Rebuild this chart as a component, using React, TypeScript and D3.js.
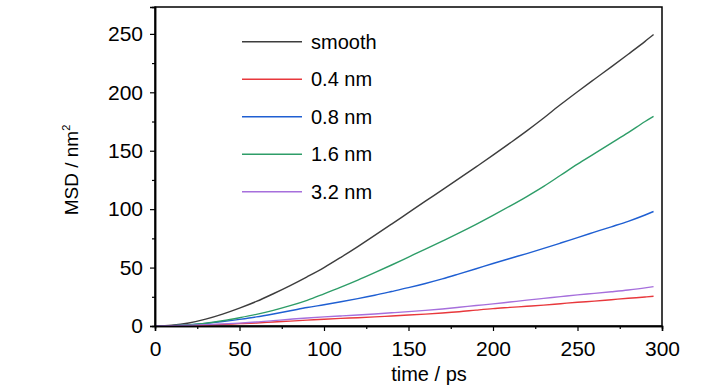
import { useRef, useEffect } from 'react';
import * as d3 from 'd3';

const W = 728;
const H = 390;

// time axis (ps)
const time = [0, 10, 20, 30, 40, 50, 60, 70, 80, 90, 100, 110, 120, 130, 140, 150, 160, 170, 180, 190, 200, 210, 220, 230, 240, 250, 260, 270, 280, 290, 295];

const smooth = [0, 0.7, 2.6, 5.9, 10.2, 15.3, 21.0, 27.6, 34.6, 42.1, 50.0, 58.8, 68.0, 77.5, 87.2, 97.0, 106.8, 116.5, 126.3, 136.2, 146.2, 156.5, 167.0, 178.0, 189.5, 200.5, 211.2, 221.8, 232.6, 243.6, 249.4];
const nm04 = [0, 0.1, 0.4, 0.9, 1.4, 2.0, 2.6, 3.4, 4.2, 5.0, 5.8, 6.5, 7.1, 7.8, 8.6, 9.4, 10.2, 11.1, 12.2, 13.6, 14.9, 15.9, 16.9, 17.9, 19.1, 20.3, 21.3, 22.5, 23.7, 24.8, 25.4];
const nm08 = [0, 0.3, 1.0, 2.2, 3.8, 5.7, 7.8, 10.3, 13.0, 15.8, 18.2, 20.7, 23.4, 26.3, 29.5, 32.8, 36.4, 40.3, 44.6, 49.0, 53.5, 57.8, 62.0, 66.4, 71.0, 75.7, 80.3, 84.9, 89.6, 95.0, 98.0];
const nm16 = [0, 0.3, 1.1, 2.4, 4.5, 7.1, 10.0, 13.4, 17.4, 22.0, 27.5, 33.2, 39.2, 45.6, 52.2, 59.0, 65.8, 72.7, 79.7, 87.0, 94.7, 102.6, 110.8, 119.5, 129.0, 138.5, 147.5, 156.5, 165.5, 175.0, 179.4];
const nm32 = [0, 0.2, 0.6, 1.2, 1.8, 2.5, 3.4, 4.6, 5.8, 6.9, 7.8, 8.6, 9.4, 10.3, 11.3, 12.3, 13.4, 14.6, 16.0, 17.5, 18.9, 20.5, 22.1, 23.6, 25.1, 26.6, 27.9, 29.3, 30.8, 32.6, 33.7];

const seriesNames = ['smooth', '0.4 nm', '0.8 nm', '1.6 nm', '3.2 nm'];
const seriesValues = [smooth, nm04, nm08, nm16, nm32];
const seriesColors = ['#3d3d3d', '#e8383c', '#1f5fd2', '#2e9d68', '#a66fdc'];

const xTicks = [0, 50, 100, 150, 200, 250, 300];
const yTicks = [0, 50, 100, 150, 200, 250];

export default function App() {
  const svgRef = useRef<SVGSVGElement>(null);

  useEffect(() => {
    const svg = d3.select(svgRef.current);
    svg.selectAll('*').remove();

    const left = 155, right = 662, top = 7, bottom = 326;
    const font = '"Liberation Sans", Arial, sans-serif';

    const x = d3.scaleLinear().domain([0, 300]).range([left, right]);
    const y = d3.scaleLinear().domain([0, 273]).range([bottom, top]);

    // frame
    svg.append('rect')
      .attr('x', left).attr('y', top)
      .attr('width', right - left).attr('height', bottom - top)
      .attr('fill', 'none').attr('stroke', '#000').attr('stroke-width', 1.5);

    // series
    const line = d3.line<number>()
      .x((_, i) => x(time[i]))
      .y((d) => y(d))
      .curve(d3.curveMonotoneX);

    seriesValues.forEach((vals, i) => {
      svg.append('path')
        .datum(vals)
        .attr('d', line)
        .attr('fill', 'none')
        .attr('stroke', seriesColors[i])
        .attr('stroke-width', 1.4);
    });

    // minor ticks
    const xMinor = d3.range(25, 300, 50);
    const yMinor = d3.range(25, 273, 50);

    const gx = svg.append('g').attr('transform', `translate(0,${bottom})`);
    gx.call(d3.axisBottom(x).tickValues(xMinor).tickSize(3).tickFormat(() => ''));
    gx.append('g').call(d3.axisBottom(x).tickValues(xTicks).tickSize(5).tickPadding(10));

    const gy = svg.append('g').attr('transform', `translate(${left},0)`);
    gy.call(d3.axisLeft(y).tickValues(yMinor).tickSize(3).tickFormat(() => ''));
    gy.append('g').call(d3.axisLeft(y).tickValues(yTicks).tickSize(5).tickPadding(7));

    svg.selectAll('.domain').attr('stroke', '#000').attr('stroke-width', 1.5);
    svg.selectAll('.tick line').attr('stroke', '#000').attr('stroke-width', 1.2);
    svg.selectAll('.tick text')
      .attr('font-family', font)
      .attr('font-size', 21)
      .attr('fill', '#000');

    // axis titles
    svg.append('text')
      .attr('x', 429).attr('y', 381)
      .attr('text-anchor', 'middle')
      .attr('font-family', font).attr('font-size', 20)
      .text('time / ps');

    const yl = svg.append('text')
      .attr('transform', 'translate(78,170) rotate(-90)')
      .attr('text-anchor', 'middle')
      .attr('font-family', font).attr('font-size', 19);
    yl.append('tspan').text('MSD / nm');
    yl.append('tspan').attr('font-size', 11).attr('dy', -8).text('2');

    // legend
    const legend = svg.append('g');
    seriesNames.forEach((name, i) => {
      const ly = 41.7 + i * 37.5;
      legend.append('line')
        .attr('x1', 242).attr('x2', 302)
        .attr('y1', ly).attr('y2', ly)
        .attr('stroke', seriesColors[i]).attr('stroke-width', 1.4);
      legend.append('text')
        .attr('x', 311).attr('y', ly)
        .attr('dominant-baseline', 'central')
        .attr('font-family', font).attr('font-size', 20)
        .text(name);
    });
  }, []);

  return (
    <div>
      <svg ref={svgRef} width={W} height={H} style={{ position: 'absolute', left: 0, top: 0, background: '#fff' }} />
    </div>
  );
}
